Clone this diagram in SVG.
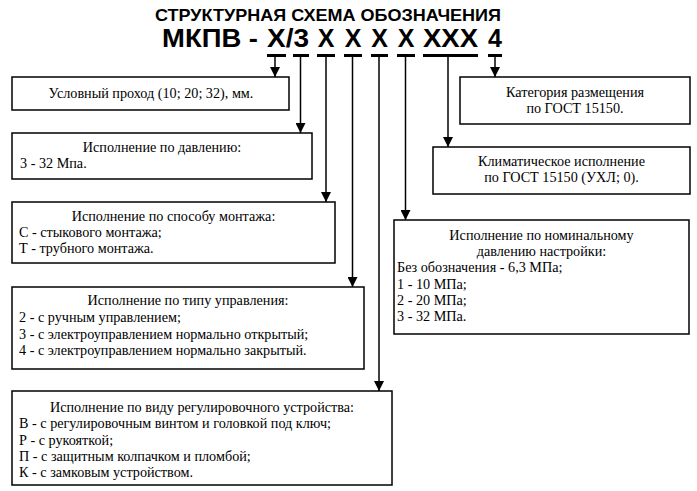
<svg xmlns="http://www.w3.org/2000/svg" width="697" height="491" viewBox="0 0 697 491">
<style>
.box{fill:#fff;stroke:#000;stroke-width:1.5}
.t{font-family:"Liberation Serif","Times New Roman",serif;font-size:14.2px;fill:#000}
.c{text-anchor:middle}
.h{font-family:"Liberation Sans",Arial,sans-serif;font-weight:bold;fill:#000}
.ln{stroke:#000;stroke-width:1.5;fill:none}
.ul{fill:#000}
</style>
<defs>
<marker id="ah" viewBox="0 0 10 10" refX="10" refY="5" markerWidth="10" markerHeight="10" markerUnits="userSpaceOnUse" orient="auto">
<path d="M0,0 L10,5 L0,10 Z" fill="#000"/>
</marker>
</defs>
<rect width="697" height="491" fill="#fff"/>
<g id="title">
<text class="h" x="328" y="21" font-size="16.5" text-anchor="middle" textLength="346" lengthAdjust="spacingAndGlyphs">СТРУКТУРНАЯ СХЕМА ОБОЗНАЧЕНИЯ</text>
<text class="h" x="162" y="47" font-size="25" textLength="96" lengthAdjust="spacingAndGlyphs">МКПВ -</text>
<text class="h" x="267" y="47" font-size="25" textLength="42" lengthAdjust="spacingAndGlyphs">X/3</text>
<text class="h" x="326" y="47" font-size="25" text-anchor="middle">X</text>
<text class="h" x="353" y="47" font-size="25" text-anchor="middle">X</text>
<text class="h" x="379.5" y="47" font-size="25" text-anchor="middle">X</text>
<text class="h" x="406" y="47" font-size="25" text-anchor="middle">X</text>
<text class="h" x="423" y="47" font-size="25" textLength="55" lengthAdjust="spacingAndGlyphs">XXX</text>
<text class="h" x="495" y="47" font-size="25" text-anchor="middle">4</text>
<rect class="ul" x="267" y="54" width="19" height="3"/>
<rect class="ul" x="293" y="54" width="16" height="3"/>
<rect class="ul" x="317" y="54" width="18" height="3"/>
<rect class="ul" x="344" y="54" width="18" height="3"/>
<rect class="ul" x="371" y="54" width="17" height="3"/>
<rect class="ul" x="397" y="54" width="18" height="3"/>
<rect class="ul" x="423" y="54" width="55" height="3"/>
<rect class="ul" x="488" y="54" width="14" height="3"/>
</g>
<g id="connectors">
<path class="ln" d="M275,57 V77" marker-end="url(#ah)"/>
<path class="ln" d="M300.5,57 V133" marker-end="url(#ah)"/>
<path class="ln" d="M326,57 V202" marker-end="url(#ah)"/>
<path class="ln" d="M352.5,57 V287" marker-end="url(#ah)"/>
<path class="ln" d="M379,57 V391" marker-end="url(#ah)"/>
<path class="ln" d="M405.5,57 V220" marker-end="url(#ah)"/>
<path class="ln" d="M448,57 V147" marker-end="url(#ah)"/>
<path class="ln" d="M495,57 V77" marker-end="url(#ah)"/>
</g>
<g id="n1">
<rect class="box" x="12" y="77" width="277" height="33"/>
<text class="t c" x="151" y="98">Условный проход (10; 20; 32), мм.</text>
</g>
<g id="n2">
<rect class="box" x="12" y="133" width="300" height="46"/>
<text class="t c" x="162" y="152">Исполнение по давлению:</text>
<text class="t" x="20" y="168">3 - 32 Мпа.</text>
</g>
<g id="n3">
<rect class="box" x="12" y="202" width="323" height="61"/>
<text class="t c" x="173.5" y="221">Исполнение по способу монтажа:</text>
<text class="t" x="19" y="237">С - стыкового монтажа;</text>
<text class="t" x="19" y="253">Т - трубного монтажа.</text>
</g>
<g id="n4">
<rect class="box" x="12" y="287" width="352" height="82"/>
<text class="t c" x="188" y="305">Исполнение по типу управления:</text>
<text class="t" x="19" y="322">2 - с ручным управлением;</text>
<text class="t" x="19" y="339">3 - с электроуправлением нормально открытый;</text>
<text class="t" x="19" y="355">4 - с электроуправлением нормально закрытый.</text>
</g>
<g id="n5">
<rect class="box" x="12" y="391" width="380" height="94"/>
<text class="t c" x="202" y="412">Исполнение по виду регулировочного устройства:</text>
<text class="t" x="19" y="428">В - с регулировочным винтом и головкой под ключ;</text>
<text class="t" x="19" y="445">Р - с рукояткой;</text>
<text class="t" x="19" y="461">П - с защитным колпачком и пломбой;</text>
<text class="t" x="19" y="477">К - с замковым устройством.</text>
</g>
<g id="r1">
<rect class="box" x="460" y="77" width="230" height="47"/>
<text class="t c" x="575" y="97">Категория размещения</text>
<text class="t c" x="575" y="113">по ГОСТ 15150.</text>
</g>
<g id="r2">
<rect class="box" x="433" y="147" width="257" height="47"/>
<text class="t c" x="561.5" y="166">Климатическое исполнение</text>
<text class="t c" x="561.5" y="182">по ГОСТ 15150 (УХЛ; 0).</text>
</g>
<g id="r3">
<rect class="box" x="394" y="220" width="295" height="114"/>
<text class="t c" x="541.5" y="240">Исполнение по номинальному</text>
<text class="t c" x="541.5" y="256">давлению настройки:</text>
<text class="t" x="397" y="272">Без обозначения - 6,3 МПа;</text>
<text class="t" x="397" y="289">1 - 10 МПа;</text>
<text class="t" x="397" y="305">2 - 20 МПа;</text>
<text class="t" x="397" y="321">3 - 32 МПа.</text>
</g>
</svg>
